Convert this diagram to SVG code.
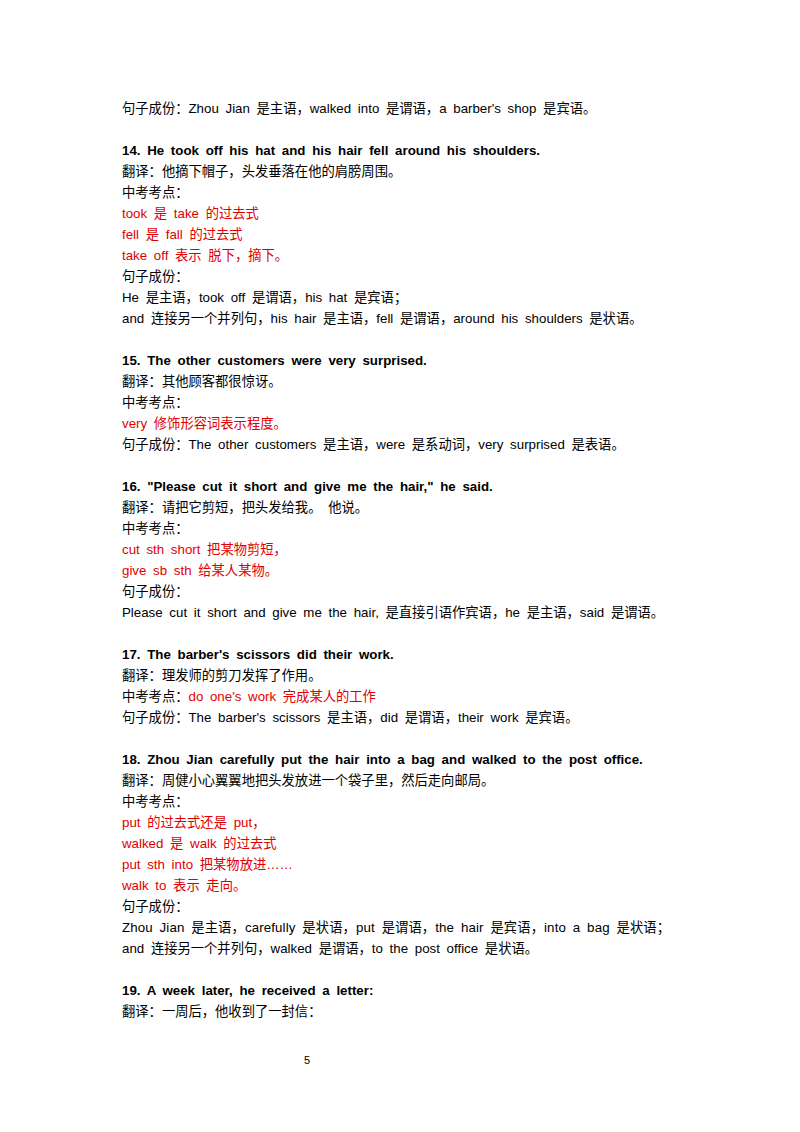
<svg xmlns="http://www.w3.org/2000/svg" width="800" height="1132" viewBox="0 0 800 1132">
<style>
text{font-family:"Liberation Sans","Noto Sans CJK SC",sans-serif;font-size:13.3px;fill:#000;word-spacing:3px}
.b{font-weight:bold}
.r{fill:#e00000}
</style>
<rect width="800" height="1132" fill="#fff"/>
<g>
<text x="122" y="113">句子成份：Zhou Jian 是主语，walked into 是谓语，a barber's shop 是宾语。</text>
<text class="b" x="122" y="155">14. He took off his hat and his hair fell around his shoulders.</text>
<text x="122" y="176">翻译：他摘下帽子，头发垂落在他的肩膀周围。</text>
<text x="122" y="197">中考考点：</text>
<text class="r" x="122" y="218">took 是 take 的过去式</text>
<text class="r" x="122" y="239">fell 是 fall 的过去式</text>
<text class="r" x="122" y="260">take off 表示 脱下，摘下。</text>
<text x="122" y="281">句子成份：</text>
<text x="122" y="302">He 是主语，took off 是谓语，his hat 是宾语；</text>
<text x="122" y="323">and 连接另一个并列句，his hair 是主语，fell 是谓语，around his shoulders 是状语。</text>
<text class="b" x="122" y="365">15. The other customers were very surprised.</text>
<text x="122" y="386">翻译：其他顾客都很惊讶。</text>
<text x="122" y="407">中考考点：</text>
<text class="r" x="122" y="428">very 修饰形容词表示程度。</text>
<text x="122" y="449">句子成份：The other customers 是主语，were 是系动词，very surprised 是表语。</text>
<text class="b" x="122" y="491">16. "Please cut it short and give me the hair," he said.</text>
<text x="122" y="512">翻译：请把它剪短，把头发给我。 他说。</text>
<text x="122" y="533">中考考点：</text>
<text class="r" x="122" y="554">cut sth short 把某物剪短，</text>
<text class="r" x="122" y="575">give sb sth 给某人某物。</text>
<text x="122" y="596">句子成份：</text>
<text x="122" y="617">Please cut it short and give me the hair, 是直接引语作宾语，he 是主语，said 是谓语。</text>
<text class="b" x="122" y="659">17. The barber's scissors did their work.</text>
<text x="122" y="680">翻译：理发师的剪刀发挥了作用。</text>
<text x="122" y="701">中考考点：<tspan class="r">do one's work 完成某人的工作</tspan></text>
<text x="122" y="722">句子成份：The barber's scissors 是主语，did 是谓语，their work 是宾语。</text>
<text class="b" x="122" y="764">18. Zhou Jian carefully put the hair into a bag and walked to the post office.</text>
<text x="122" y="785">翻译：周健小心翼翼地把头发放进一个袋子里，然后走向邮局。</text>
<text x="122" y="806">中考考点：</text>
<text class="r" x="122" y="827">put 的过去式还是 put，</text>
<text class="r" x="122" y="848">walked 是 walk 的过去式</text>
<text class="r" x="122" y="869">put sth into 把某物放进……</text>
<text class="r" x="122" y="890">walk to 表示 走向。</text>
<text x="122" y="911">句子成份：</text>
<text x="122" y="932" textLength="548" lengthAdjust="spacing">Zhou Jian 是主语，carefully 是状语，put 是谓语，the hair 是宾语，into a bag 是状语；</text>
<text x="122" y="953">and 连接另一个并列句，walked 是谓语，to the post office 是状语。</text>
<text class="b" x="122" y="995">19. A week later, he received a letter:</text>
<text x="122" y="1016">翻译：一周后，他收到了一封信：</text>
<text x="304" y="1064" style="font-size:11px">5</text>
</g>
</svg>
